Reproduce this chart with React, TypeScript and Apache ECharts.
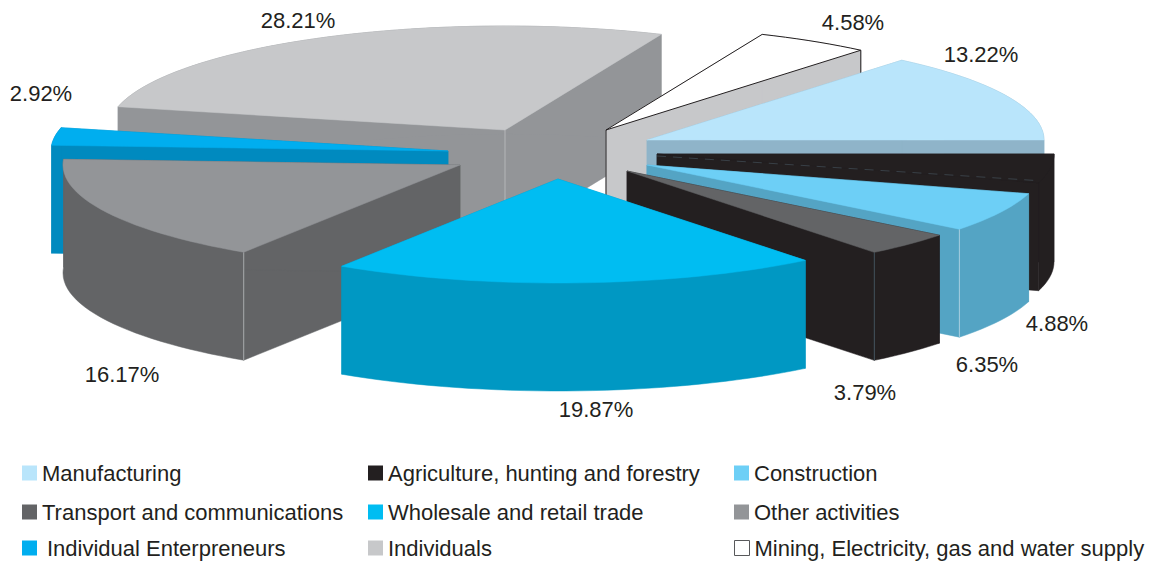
import React, { useEffect, useRef } from "react";
import * as echarts from "echarts";

const categories = [
  "Manufacturing",
  "Agriculture, hunting and forestry",
  "Construction",
  "Transport and communications",
  "Wholesale and retail trade",
  "Other activities",
  "Individual Enterpreneurs",
  "Individuals",
  "Mining, Electricity, gas and water supply",
];
const shares = [13.22, 4.88, 6.35, 3.79, 19.87, 16.17, 2.92, 28.21, 4.58];

// Look of each slice, in the order of the categories.
const topColors = ["#b9e5fb", "#231f20", "#6dcff6", "#636466", "#00bdf2", "#939598", "#00aeef", "#c7c8ca", "#ffffff"];
const wallColors = ["#8fb4c9", "#231f20", "#54a4c4", "#231f20", "#0098c3", "#636466", "#008abf", "#939598", "#c7c8ca"];
const legendColors = ["#b9e5fb", "#231f20", "#6dcff6", "#636466", "#00bdf2", "#939598", "#00aeef", "#c7c8ca", "#ffffff"];
// Where the tip of each pulled-out slice sits.
const tipX = [647, 657, 647, 627, 558, 460, 448, 505, 606];
const tipY = [140, 154, 165, 171, 179, 165, 151, 130, 130];
const labelX = [981, 1057, 987, 865, 596, 122, 41, 298, 853];
const labelY = [54, 323, 364, 392, 409, 374, 93, 20, 22];
// Painting order, back to front, and the vertical corner line of each slice.
const paintOrder = [7, 8, 0, 1, 6, 5, 2, 3, 4];
const ridgeAt = ["", "", "end", "end", "", "start", "", "tip", "tip+end"];
const ridgeColors = ["", "", "#a9cfe0", "#44555f", "", "#a7a9ac", "", "#b5b6b8", "#231f20"];

const legendLeft = [22, 368, 734];
const legendTop = [462, 501, 537];

const RX = 397;
const RY = 104;
const DEPTH = 108;
const FIRST_ANGLE = -47.5;
const FONT = '"Liberation Sans", Arial, sans-serif';

const total = shares.reduce((a, b) => a + b, 0);
const startAngles: number[] = [];
shares.reduce((acc, v, i) => {
  startAngles[i] = acc;
  return acc + (v / total) * 360;
}, FIRST_ANGLE);

// The reference drawing's ellipse lags slightly away from its horizontal axis.
const warp = (deg: number) => deg - 3 * Math.sqrt(Math.abs(Math.sin((deg * Math.PI) / 180)));

function renderSlice(index: number) {
  return (_params: any, api: any) => {
    const value = api.value(0) as number;
    const a0 = startAngles[index];
    const a1 = a0 + (value / total) * 360;
    const x0 = tipX[index];
    const y0 = tipY[index];
    const rim: number[][] = [];
    const steps = Math.max(2, Math.ceil((a1 - a0) / 2));
    for (let s = 0; s <= steps; s++) {
      const t = (warp(a0 + ((a1 - a0) * s) / steps) * Math.PI) / 180;
      rim.push([x0 + RX * Math.cos(t), y0 + RY * Math.sin(t)]);
    }
    const first = rim[0];
    const last = rim[rim.length - 1];
    const down = (p: number[]) => [p[0], p[1] + DEPTH];
    const wall = wallColors[index];
    const wallStyle = { fill: wall, stroke: wall, lineWidth: 0.5 };
    const children: any[] = [
      { type: "polygon", shape: { points: [[x0, y0], first, down(first), [x0, y0 + DEPTH]] }, style: wallStyle },
      { type: "polygon", shape: { points: [[x0, y0], last, down(last), [x0, y0 + DEPTH]] }, style: wallStyle },
      { type: "polygon", shape: { points: [...rim, ...rim.map(down).reverse()] }, style: wallStyle },
    ];
    const ridge = ridgeAt[index];
    const addRidge = (p: number[]) =>
      children.push({
        type: "line",
        shape: { x1: p[0], y1: p[1], x2: p[0], y2: p[1] + DEPTH },
        style: { stroke: ridgeColors[index], lineWidth: 1 },
      });
    if (ridge.includes("tip")) addRidge([x0, y0]);
    if (ridge.includes("end")) addRidge(last);
    if (ridge.includes("start")) addRidge(first);
    const outlined = topColors[index] === "#ffffff";
    children.push({
      type: "polygon",
      shape: { points: [[x0, y0], ...rim] },
      style: {
        fill: topColors[index],
        stroke: outlined ? "#231f20" : topColors[index],
        lineWidth: outlined ? 1 : 0.5,
      },
    });
    if (index === 1) {
      children.push({
        type: "line",
        shape: { x1: x0, y1: y0 + 2, x2: last[0], y2: last[1] - 2 },
        style: { stroke: "#46565f", lineWidth: 0.6, lineDash: [9, 7] },
      });
    }
    children.push({
      type: "text",
      style: {
        text: value.toFixed(2) + "%",
        x: labelX[index],
        y: labelY[index],
        fill: "#231f20",
        font: `22px ${FONT}`,
        textAlign: "center",
        textVerticalAlign: "middle",
      },
    });
    return { type: "group", children };
  };
}

export default function App() {
  const ref = useRef<HTMLDivElement>(null);
  useEffect(() => {
    if (!ref.current) return;
    const chart = echarts.init(ref.current, null, { renderer: "svg" });
    chart.setOption({
      animation: false,
      backgroundColor: "#ffffff",
      legend: categories.map((name, i) => ({
        data: [
          {
            name,
            icon: "rect",
            itemStyle: {
              color: legendColors[i],
              borderColor: i === 8 ? "#58595b" : legendColors[i],
              borderWidth: i === 8 ? 1 : 0,
            },
          },
        ],
        left: legendLeft[i % 3],
        top: legendTop[Math.floor(i / 3)],
        padding: 0,
        itemWidth: 15,
        itemHeight: 15,
        selectedMode: false,
        textStyle: {
          fontFamily: FONT,
          fontSize: 22,
          color: "#231f20",
          padding: i === 6 ? [0, 0, 0, 5] : 0,
        },
      })),
      series: paintOrder.map((index) => ({
        type: "custom",
        name: categories[index],
        coordinateSystem: "none",
        silent: true,
        itemStyle: { color: legendColors[index] },
        data: [[shares[index]]],
        renderItem: renderSlice(index),
      })),
    });
    return () => chart.dispose();
  }, []);
  return <div ref={ref} style={{ position: "fixed", left: 0, top: 0, width: 1155, height: 563 }} />;
}
